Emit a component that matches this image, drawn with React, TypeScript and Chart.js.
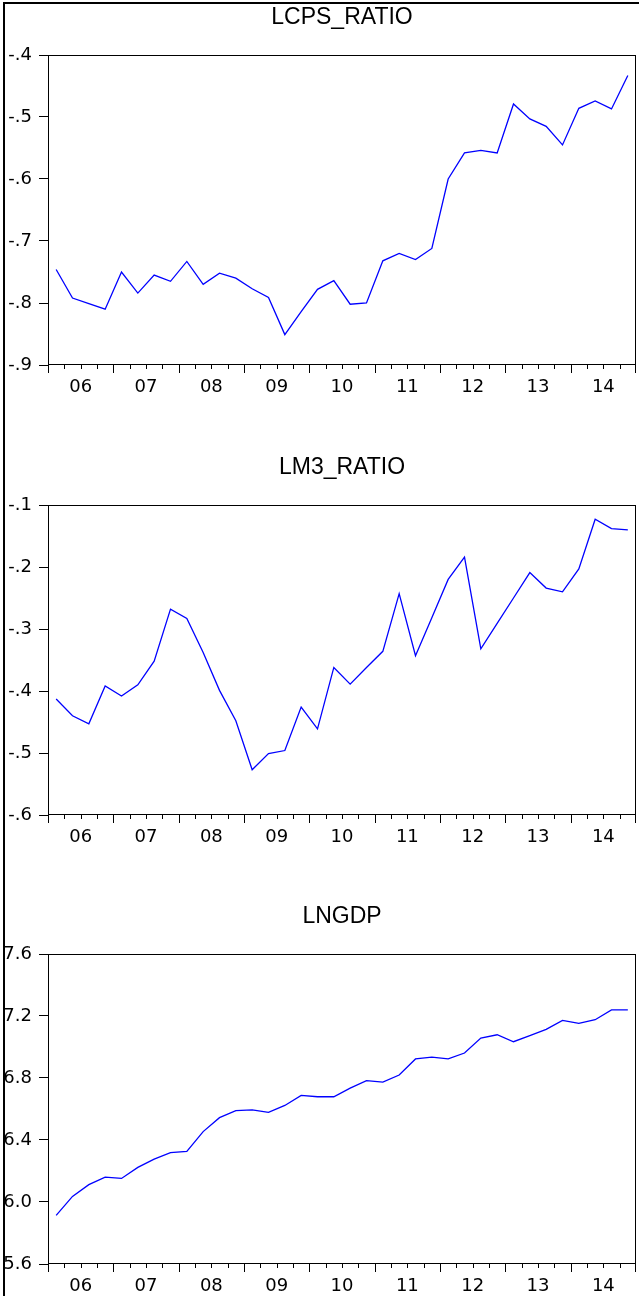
import React, { useEffect, useRef } from 'react';
import { Chart, registerables } from 'chart.js';

Chart.register(...registerables);

// ---- data (quarterly, 2006Q1 .. 2014Q4) ----
const yearLabels = ['06', '07', '08', '09', '10', '11', '12', '13', '14'];
const quarterCount = 36;

const lcpsRatio = [
  -0.746, -0.792, -0.801, -0.810, -0.750, -0.784, -0.755, -0.765,
  -0.733, -0.770, -0.752, -0.760, -0.777, -0.791, -0.851, -0.814,
  -0.778, -0.764, -0.802, -0.800, -0.732, -0.720, -0.730, -0.712,
  -0.600, -0.558, -0.554, -0.558, -0.479, -0.503, -0.515, -0.545,
  -0.486, -0.474, -0.487, -0.433,
];

const lm3Ratio = [
  -0.413, -0.440, -0.453, -0.392, -0.408, -0.390, -0.352, -0.268,
  -0.283, -0.338, -0.399, -0.448, -0.527, -0.501, -0.496, -0.426,
  -0.461, -0.362, -0.389, -0.362, -0.336, -0.243, -0.343, -0.282,
  -0.220, -0.184, -0.332, -0.291, -0.250, -0.209, -0.234, -0.240,
  -0.203, -0.123, -0.138, -0.140,
];

const lngdp = [
  5.914, 6.036, 6.112, 6.161, 6.152, 6.223, 6.277, 6.318,
  6.327, 6.454, 6.544, 6.589, 6.594, 6.578, 6.623, 6.688,
  6.679, 6.679, 6.735, 6.783, 6.774, 6.819, 6.923, 6.935,
  6.923, 6.961, 7.058, 7.079, 7.034, 7.073, 7.114, 7.172,
  7.152, 7.176, 7.239, 7.239,
];

const lcpsTicks = [-0.9, -0.8, -0.7, -0.6, -0.5, -0.4];
const lm3Ticks = [-0.6, -0.5, -0.4, -0.3, -0.2, -0.1];
const lngdpTicks = [5.6, 6.0, 6.4, 6.8, 7.2, 7.6];

const TICK_FONT = { family: "'DejaVu Sans', sans-serif", size: 18 };
const TITLE_FONT = { family: "'Liberation Sans', Arial, sans-serif", size: 23, weight: 'normal' as const, lineHeight: 1.2 };

const fmt = (v: number) => v.toFixed(1).replace(/^(-?)0\./, '$1.');

const framePlugin = {
  id: 'evFrame',
  afterDraw(chart: any) {
    const { ctx, chartArea: a, scales } = chart;
    const xs = scales.x;
    ctx.save();
    ctx.strokeStyle = '#000';
    ctx.lineWidth = 1;
    ctx.strokeRect(a.left + 0.5, a.top + 0.5, a.right - a.left - 1, a.bottom - a.top - 1);
    for (let k = 0; k <= quarterCount; k++) {
      let px = Math.round(xs.getPixelForValue(k)) + 0.5;
      if (px > a.right - 0.5) px = a.right - 0.5;
      ctx.beginPath();
      ctx.moveTo(px, a.bottom);
      ctx.lineTo(px, a.bottom + (k % 4 === 0 ? 8 : 4));
      ctx.stroke();
    }
    ctx.restore();
  },
};

type PanelProps = { title: string; values: number[]; yTicks: number[]; top: number; height: number };

function Panel({ title, values, yTicks, top, height }: PanelProps) {
  const ref = useRef<HTMLCanvasElement | null>(null);
  useEffect(() => {
    if (!ref.current) return;
    const chart = new Chart(ref.current, {
      type: 'line',
      data: {
        datasets: [
          {
            data: values.map((v, i) => ({ x: i + 0.5, y: v })),
            borderColor: '#0000FF',
            borderWidth: 1.3,
            pointRadius: 0,
            tension: 0,
            fill: false,
          },
        ],
      },
      options: {
        animation: false,
        responsive: false,
        maintainAspectRatio: false,
        devicePixelRatio: 1,
        layout: { padding: { left: 0, right: 3, top: 0, bottom: 0 } },
        plugins: {
          legend: { display: false },
          tooltip: { enabled: false },
          title: {
            display: true,
            text: title,
            color: '#000',
            font: TITLE_FONT,
            fullSize: false,
            padding: { top: 4, bottom: 23.4 },
          },
        },
        scales: {
          x: {
            type: 'linear',
            min: 0,
            max: quarterCount,
            afterBuildTicks: (scale: any) => {
              scale.ticks = yearLabels.map((_, j) => ({ value: 4 * j + 2 }));
            },
            afterFit: (scale: any) => {
              scale.height = height - 365;
            },
            grid: { display: false, drawTicks: false },
            border: { display: false },
            ticks: {
              autoSkip: false,
              maxRotation: 0,
              minRotation: 0,
              padding: 12,
              color: '#000',
              font: TICK_FONT,
              callback: (_v: any, index: number) => yearLabels[index],
            },
          },
          y: {
            type: 'linear',
            min: yTicks[0],
            max: yTicks[yTicks.length - 1],
            afterBuildTicks: (scale: any) => {
              scale.ticks = yTicks.map((v) => ({ value: v }));
            },
            afterFit: (scale: any) => {
              scale.width = 48;
            },
            grid: { display: true, drawOnChartArea: false, drawTicks: true, tickLength: 9, color: '#000', tickColor: '#000' },
            border: { display: false },
            ticks: {
              padding: 7,
              color: '#000',
              font: TICK_FONT,
              callback: (v: any) => fmt(Number(v)),
            },
          },
        },
      },
      plugins: [framePlugin],
    } as any);
    return () => chart.destroy();
  }, [title, values, yTicks, height]);

  return (
    <canvas
      ref={ref}
      width={639}
      height={height}
      style={{ position: 'absolute', left: -5, top, width: 639, height, display: 'block' }}
    />
  );
}

export default function App() {
  useEffect(() => {
    document.body.style.margin = '0';
    document.body.style.background = '#fff';
  }, []);
  return (
    <div style={{ position: 'absolute', left: 0, top: 0, width: 639, height: 1296, background: '#fff', overflow: 'hidden' }}>
      <div style={{ position: 'absolute', left: 5, top: 0, width: 634, height: 1296, overflow: 'hidden' }}>
        <Panel title="LCPS_RATIO" values={lcpsRatio} yTicks={lcpsTicks} top={0} height={450} />
        <Panel title="LM3_RATIO" values={lm3Ratio} yTicks={lm3Ticks} top={450} height={449} />
        <Panel title="LNGDP" values={lngdp} yTicks={lngdpTicks} top={899} height={397} />
      </div>
      <div
        style={{
          position: 'absolute',
          left: 3,
          top: 2,
          width: 636,
          height: 1294,
          boxSizing: 'border-box',
          borderTop: '2px solid #000',
          borderLeft: '2px solid #000',
          pointerEvents: 'none',
        }}
      />
    </div>
  );
}
